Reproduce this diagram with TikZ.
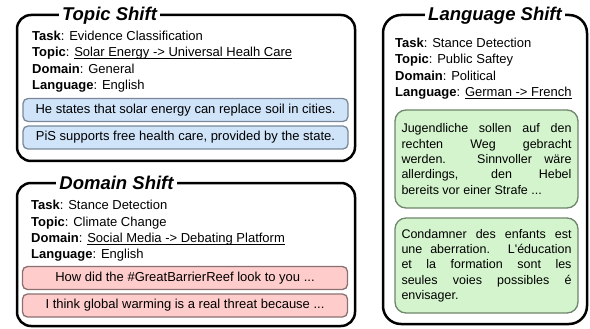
\documentclass[tikz,border=0pt]{standalone}
\usepackage{fontspec}
\setmainfont{Liberation Sans}
\newcommand{\undertext}[1]{\setbox0=\hbox{#1}\rlap{\rule[-2.2pt]{\wd0}{0.8pt}}\box0}
\definecolor{bluefill}{HTML}{CFE3F9}
\definecolor{blueline}{HTML}{7A8899}
\definecolor{pinkfill}{HTML}{FFCCCC}
\definecolor{pinkline}{HTML}{8A7070}
\definecolor{greenfill}{HTML}{D3F4CC}
\definecolor{greenline}{HTML}{6E866C}
\begin{document}
\begin{tikzpicture}[x=1pt,y=-1pt,
  frame/.style={line width=2.5pt,rounded corners=14pt},
  shifttitle/.style={fill=white,inner xsep=3pt,inner ysep=0pt,anchor=base,
    font=\fontsize{18.5}{20}\selectfont\bfseries\itshape},
  infoline/.style={anchor=base west,inner sep=0pt,font=\fontsize{13}{16}\selectfont},
  sample/.style={draw,line width=1.3pt,rounded corners=5pt,minimum width=325pt,
    minimum height=23pt,inner sep=0pt,font=\fontsize{13}{16}\selectfont},
  longsample/.style={draw=greenline,fill=greenfill,line width=1.3pt,rounded corners=11pt,
    minimum width=183pt,text width=170pt,align=justify,inner xsep=6.5pt,
    font=\fontsize{12.5}{15.3}\selectfont}]
\useasboundingbox (0,0) rectangle (590,329);

% topic shift
\draw[frame] (17,15) rectangle (355,161);
\node[shifttitle] (topic) at (109.5,21) {Topic Shift};
\node[infoline] (t1) at (32,40.6) {\textbf{Task}: Evidence Classification};
\node[infoline] (t2) at (32,57) {\textbf{Topic}: \undertext{Solar Energy -> Universal Healh Care}};
\node[infoline] (t3) at (32,73.4) {\textbf{Domain}: General};
\node[infoline] (t4) at (32,89.8) {\textbf{Language}: English};
\node[sample,draw=blueline,fill=bluefill] (s1) at (185.5,110) {He states that solar energy can replace soil in cities.};
\node[sample,draw=blueline,fill=bluefill] (s2) at (185.5,137.5) {PiS supports free health care, provided by the state.};

% domain shift
\draw[frame] (17,183) rectangle (355,326);
\node[shifttitle] (domain) at (116.5,189.5) {Domain Shift};
\node[infoline] (d1) at (31,209.6) {\textbf{Task}: Stance Detection};
\node[infoline] (d2) at (31,226) {\textbf{Topic}: Climate Change};
\node[infoline] (d3) at (31,242.4) {\textbf{Domain}: \undertext{Social Media -> Debating Platform}};
\node[infoline] (d4) at (31,258.8) {\textbf{Language}: English};
\node[sample,draw=pinkline,fill=pinkfill] (s3) at (185,278) {How did the \#GreatBarrierReef look to you ...};
\node[sample,draw=pinkline,fill=pinkfill] (s4) at (185,305.5) {I think global warming is a real threat because ...};

% language shift
\draw[frame,rounded corners=18pt] (383,15) rectangle (587,324);
\node[shifttitle] (language) at (495,21) {Language Shift};
\node[infoline] (l1) at (395,47.6) {\textbf{Task}: Stance Detection};
\node[infoline] (l2) at (395,64) {\textbf{Topic}: Public Saftey};
\node[infoline] (l3) at (395,80.4) {\textbf{Domain}: Political};
\node[infoline] (l4) at (395,96.8) {\textbf{Language}: \undertext{German -> French}};
\node[longsample,minimum height=98pt] (s5) at (486.5,159) {Jugendliche sollen auf den\linebreak rechten Weg gebracht\linebreak werden. Sinnvoller wäre\linebreak allerdings, den Hebel\linebreak bereits vor einer Strafe ...};
\node[longsample,minimum height=95pt] (s6) at (486.5,265.5) {Condamner des enfants est\linebreak une aberration. L\textquotesingle éducation\linebreak et la formation sont les\linebreak seules voies possibles é\linebreak envisager.};
\end{tikzpicture}
\end{document}
